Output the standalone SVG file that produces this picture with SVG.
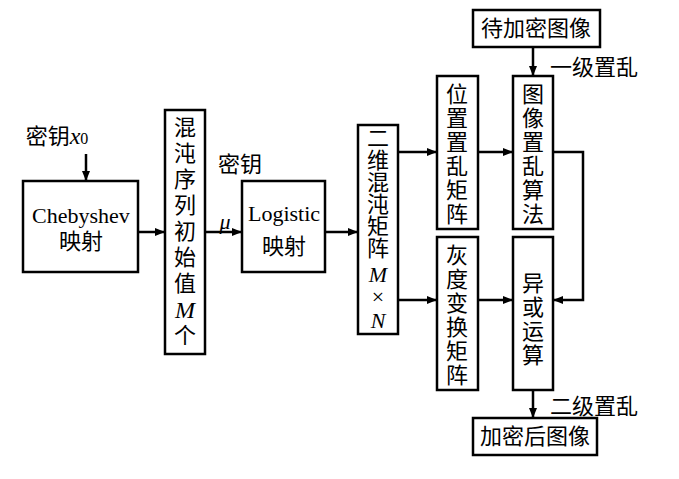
<svg xmlns="http://www.w3.org/2000/svg" width="679" height="479" viewBox="0 0 679 479">
<defs>
<marker id="ar" markerWidth="10" markerHeight="8" refX="10" refY="4" orient="auto" markerUnits="userSpaceOnUse"><path d="M0,0 L10,4 L0,8 z" fill="#000"/></marker>
<style>
.b{fill:#fff;stroke:#000;stroke-width:2.5}
.t{font-family:"Liberation Serif","Noto Sans CJK SC",serif;font-size:22px;fill:#000;text-anchor:middle}
.l{font-size:24px}
.c{fill:none;stroke:#000;stroke-width:2.5}
.i{font-style:italic}
</style>
</defs>
<rect width="679" height="479" fill="#fff"/>
<g id="cheb"><rect class="b" x="23" y="181" width="115" height="91"/><text class="t" x="81" y="223" font-size="23">Chebyshev</text><text class="t" x="81" y="249">映射</text></g>
<g id="seq"><rect class="b" x="165" y="110" width="40" height="244"/>
<text class="t" x="185" y="135">混</text><text class="t" x="185" y="161">沌</text><text class="t" x="185" y="187">序</text><text class="t" x="185" y="213">列</text><text class="t" x="185" y="239">初</text><text class="t" x="185" y="265">始</text><text class="t" x="185" y="291">值</text><text class="t i l" x="185" y="318">M</text><text class="t" x="185" y="343">个</text></g>
<g id="logi"><rect class="b" x="242" y="181" width="83" height="91"/><text class="t" x="284" y="221" font-size="23">Logistic</text><text class="t" x="284" y="254">映射</text></g>
<g id="mat"><rect class="b" x="358" y="125" width="40" height="209"/>
<text class="t" x="378" y="146">二</text><text class="t" x="378" y="168">维</text><text class="t" x="378" y="190">混</text><text class="t" x="378" y="212">沌</text><text class="t" x="378" y="234">矩</text><text class="t" x="378" y="256">阵</text><text class="t i" x="378" y="282">M</text><text class="t" x="378" y="304" font-size="16">×</text><text class="t i" x="378" y="328">N</text></g>
<g id="pos"><rect class="b" x="437" y="76" width="41" height="153"/>
<text class="t" x="457" y="102">位</text><text class="t" x="457" y="126">置</text><text class="t" x="457" y="150">置</text><text class="t" x="457" y="174">乱</text><text class="t" x="457" y="198">矩</text><text class="t" x="457" y="222">阵</text></g>
<g id="gray"><rect class="b" x="437" y="237" width="41" height="153"/>
<text class="t" x="457" y="263">灰</text><text class="t" x="457" y="287">度</text><text class="t" x="457" y="311">变</text><text class="t" x="457" y="335">换</text><text class="t" x="457" y="359">矩</text><text class="t" x="457" y="383">阵</text></g>
<g id="src"><rect class="b" x="473" y="10" width="127" height="37"/><text class="t" x="536" y="36">待加密图像</text></g>
<g id="scr"><rect class="b" x="513" y="76" width="40" height="153"/>
<text class="t" x="533" y="102">图</text><text class="t" x="533" y="126">像</text><text class="t" x="533" y="150">置</text><text class="t" x="533" y="174">乱</text><text class="t" x="533" y="198">算</text><text class="t" x="533" y="222">法</text></g>
<g id="xor"><rect class="b" x="513" y="237" width="40" height="153"/>
<text class="t" x="533" y="291">异</text><text class="t" x="533" y="315">或</text><text class="t" x="533" y="339">运</text><text class="t" x="533" y="363">算</text></g>
<g id="dst"><rect class="b" x="473" y="418" width="124" height="37"/><text class="t" x="535" y="444">加密后图像</text></g>
<g id="labels">
<text class="t" x="57" y="144">密钥<tspan class="i" font-size="24">x</tspan><tspan font-size="16">0</tspan></text>
<text class="t" x="240" y="172">密钥</text>
<text class="t i" x="225" y="229">μ</text>
<text class="t" x="594" y="75">一级置乱</text>
<text class="t" x="594" y="414">二级置乱</text>
</g>
<g id="connectors">
<path class="c" d="M86,154 V181" marker-end="url(#ar)"/>
<path class="c" d="M138,232 H165" marker-end="url(#ar)"/>
<path class="c" d="M205,232 H242" marker-end="url(#ar)"/>
<path class="c" d="M325,232 H358" marker-end="url(#ar)"/>
<path class="c" d="M398,152 H437" marker-end="url(#ar)"/>
<path class="c" d="M398,300 H437" marker-end="url(#ar)"/>
<path class="c" d="M478,152 H513" marker-end="url(#ar)"/>
<path class="c" d="M478,300 H513" marker-end="url(#ar)"/>
<path class="c" d="M553,152 H583 V300 H553" marker-end="url(#ar)"/>
<path class="c" d="M533,47 V76" marker-end="url(#ar)"/>
<path class="c" d="M533,390 V418" marker-end="url(#ar)"/>
</g>
</svg>
